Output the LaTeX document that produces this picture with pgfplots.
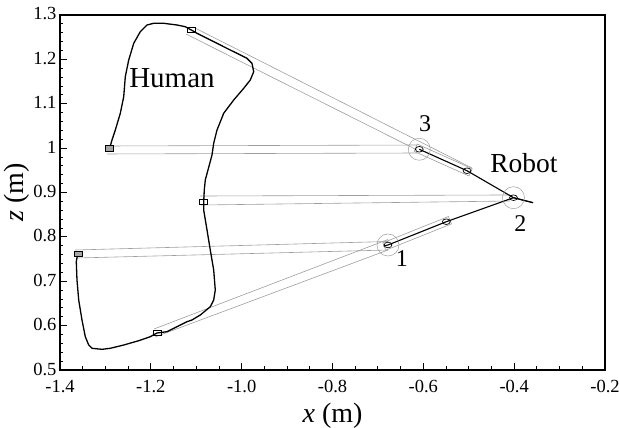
\documentclass[border=0pt]{standalone}
\usepackage{fontspec}
\setmainfont{Liberation Serif}
\usepackage{pgfplots}
\pgfplotsset{compat=1.18}
\definecolor{ghost}{gray}{0.62}
\begin{document}
\begin{tikzpicture}
\begin{axis}[
  scale only axis, width=545pt, height=355pt,
  xmin=-1.4, xmax=-0.2, ymin=0.5, ymax=1.3,
  xtick={-1.4,-1.2,-1.0,-0.8,-0.6,-0.4,-0.2},
  ytick={0.5,0.6,0.7,0.8,0.9,1,1.1,1.2,1.3},
  minor x tick num=3, minor y tick num=4,
  xtick pos=bottom, ytick pos=left, tick align=inside,
  major tick length=7pt, minor tick length=3.5pt,
  axis line style={line width=1.1pt}, tick style={line width=0.9pt,black},
  /pgf/number format/assume math mode=true,
  x tick label style={/pgf/number format/.cd,fixed,fixed zerofill,precision=1,/tikz/.cd,yshift=-6.5pt},
  y tick label style={/pgf/number format/.cd,fixed,precision=1,/tikz/.cd,yshift=1pt},
  tick label style={font=\fontsize{18.5}{22}\selectfont},
  label style={font=\fontsize{28}{32}\selectfont},
  xlabel={\textit{x} (m)}, ylabel={\textit{z} (m)},
  xlabel style={yshift=-4pt}, ylabel style={yshift=-3pt},
  clip=false,
]
% correspondence lines human -> robot
\addplot[ghost, line width=0.6pt] coordinates {(-1.1072,1.2730) (-0.4929,0.9552)};
\addplot[ghost, line width=0.6pt] coordinates {(-1.1226,1.2572) (-0.6139,0.9958)};
\addplot[ghost, line width=0.6pt] coordinates {(-1.2987,1.0048) (-0.6139,1.0070)};
\addplot[ghost, line width=0.6pt] coordinates {(-1.2965,0.9868) (-0.6139,0.9890)};
\addplot[ghost, line width=0.6pt] coordinates {(-1.0917,0.8921) (-0.4092,0.8944)};
\addplot[ghost, line width=0.6pt] coordinates {(-1.0895,0.8718) (-0.4092,0.8808)};
\addplot[ghost, line width=0.6pt] coordinates {(-1.3670,0.7704) (-0.6778,0.7896)};
\addplot[ghost, line width=0.6pt] coordinates {(-1.3626,0.7524) (-0.6778,0.7704)};
\addplot[ghost, line width=0.6pt] coordinates {(-1.1930,0.5924) (-0.6778,0.7941)};
\addplot[ghost, line width=0.6pt] coordinates {(-1.1908,0.5744) (-0.6778,0.7704)};
% robot links (outlines)
\addplot[ghost, line width=0.6pt] coordinates {(-0.6827,0.7700) (-0.5380,0.8292) (-0.5446,0.8459) (-0.6893,0.7866) (-0.6827,0.7700)};
\addplot[ghost, line width=0.6pt] coordinates {(-0.6203,0.9926) (-0.4995,0.9372) (-0.4924,0.9536) (-0.6133,1.0091) (-0.6203,0.9926)};
% robot arm
\addplot[black, line width=1.1pt] coordinates {(-0.6873,0.7794) (-0.6778,0.7817) (-0.5494,0.8342) (-0.4015,0.8883) (-0.3585,0.8770)};
\addplot[black, line width=1.1pt] coordinates {(-0.6089,0.9974) (-0.5039,0.9491) (-0.4015,0.8883) (-0.3585,0.8770)};
\addplot[only marks, mark=o, mark size=11pt, mark options={ghost, line width=0.5pt}] coordinates {(-0.6778,0.7817) (-0.4015,0.8883) (-0.6089,0.9974)};
\addplot[only marks, mark=o, mark size=2.8pt, mark options={black, line width=0.7pt, xscale=1.4, fill=white}] coordinates {(-0.6778,0.7817) (-0.5494,0.8342) (-0.4015,0.8883) (-0.5039,0.9491) (-0.6089,0.9974)};
% human trajectory
\addplot[black, line width=1.3pt] coordinates {
(-1.3604,0.7666) (-1.3641,0.7441) (-1.3626,0.7028) (-1.3588,0.6577) (-1.3516,0.6127)
(-1.3443,0.5750) (-1.3368,0.5563) (-1.3295,0.5489) (-1.3075,0.5466) (-1.2892,0.5489)
(-1.2597,0.5563) (-1.2267,0.5660) (-1.2012,0.5750) (-1.1864,0.5834) (-1.1644,0.5863)
(-1.1424,0.5976) (-1.1204,0.6088) (-1.1094,0.6127) (-1.0911,0.6239) (-1.0691,0.6426)
(-1.0616,0.6577) (-1.0581,0.6803) (-1.0616,0.7254) (-1.0691,0.7704) (-1.0763,0.8155)
(-1.0836,0.8606) (-1.0836,0.8793) (-1.0823,0.9056) (-1.0801,0.9282) (-1.0653,0.9845)
(-1.0616,1.0109) (-1.0543,1.0408) (-1.0396,1.0785) (-1.0175,1.1085) (-0.9955,1.1348)
(-0.9810,1.1535) (-0.9735,1.1722) (-0.9773,1.1911) (-0.9883,1.2024) (-1.0250,1.2211)
(-1.0691,1.2437) (-1.0984,1.2588) (-1.1109,1.2662) (-1.1241,1.2736) (-1.1424,1.2775)
(-1.1717,1.2813) (-1.1937,1.2813) (-1.2084,1.2775) (-1.2232,1.2624) (-1.2377,1.2362)
(-1.2487,1.1986) (-1.2562,1.1610) (-1.2597,1.1159) (-1.2672,1.0785) (-1.2782,1.0408)
(-1.2855,1.0183) (-1.2906,0.9996)};
\addplot[only marks, mark=square, mark size=2.8pt, mark options={black, line width=0.7pt, xscale=1.4}] coordinates {(-1.1864,0.5834) (-1.0836,0.8793) (-1.1109,1.2662)};
\addplot[only marks, mark=square*, mark size=2.8pt, mark options={black, fill=gray!70, line width=0.7pt, xscale=1.4}] coordinates {(-1.3588,0.7614) (-1.2906,0.9996)};
% labels
\node[font=\fontsize{29}{32}\selectfont] at (axis cs:-1.1534,1.158) {Human};
\node[font=\fontsize{27.5}{30}\selectfont] at (axis cs:-0.3784,0.9665) {Robot};
\node[font=\fontsize{24}{28}\selectfont] at (axis cs:-0.6470,0.7517) {1};
\node[font=\fontsize{24}{28}\selectfont] at (axis cs:-0.3865,0.8306) {2};
\node[font=\fontsize{24}{28}\selectfont] at (axis cs:-0.5963,1.0544) {3};
\end{axis}
\pgfresetboundingbox
\path[use as bounding box] (-60pt,-58pt) rectangle (559pt,370pt);
\end{tikzpicture}
\end{document}
